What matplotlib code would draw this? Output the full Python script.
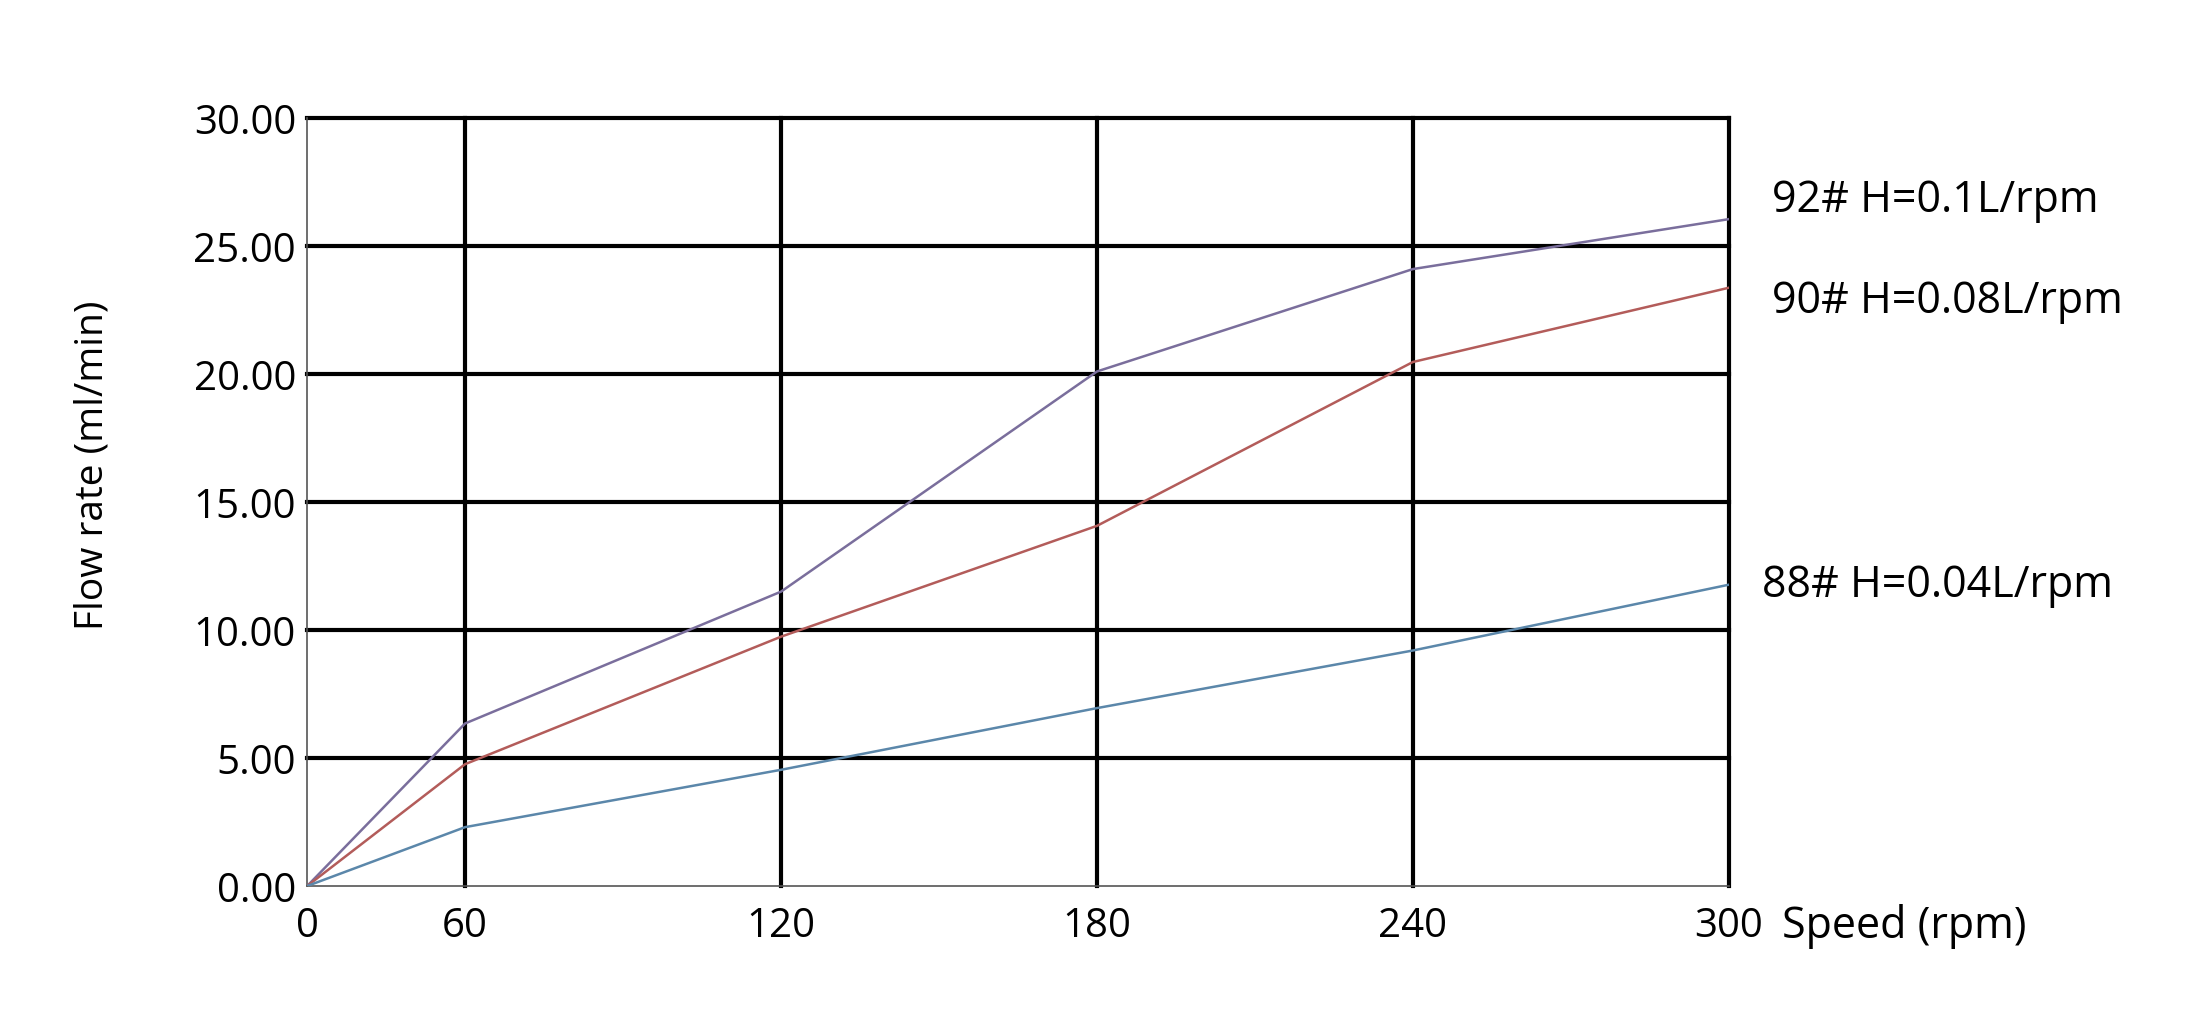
import numpy as np
import matplotlib
matplotlib.use("Agg")
import matplotlib.pyplot as plt

plt.rcParams['font.family'] = ['Open Sans', 'DejaVu Sans']

speed = [0, 60, 120, 180, 240, 300]
flow_92 = [0, 6.35, 11.5, 20.1, 24.1, 26.05]
flow_90 = [0, 4.76, 9.74, 14.07, 20.47, 23.37]
flow_88 = [0, 2.3, 4.54, 6.95, 9.2, 11.77]
labels = ["92# H=0.1L/rpm", "90# H=0.08L/rpm", "88# H=0.04L/rpm"]
colors = ["#7a6e9c", "#b35c5a", "#5b87aa"]
yticks = [0, 5, 10, 15, 20, 25, 30]


# the first interval (0-60) is drawn half as wide as the others
def fwd(x):
    x = np.asarray(x, dtype=float)
    return np.where(x < 60, x / 120.0, x / 60.0 - 0.5)


def inv(p):
    p = np.asarray(p, dtype=float)
    return np.where(p < 0.5, p * 120.0, (p + 0.5) * 60.0)


fig = plt.figure(figsize=(21.94, 10.12), dpi=100)
ax = fig.add_axes([0.14, 0.1235, 0.648, 0.7589])
ax.set_xscale('function', functions=(fwd, inv))

for yv in yticks[1:]:
    ax.axhline(yv, color='black', linewidth=3.0, zorder=1, clip_on=False)
for xv in speed[1:]:
    ax.axvline(xv, color='black', linewidth=3.0, zorder=1, clip_on=False)

for y, c in zip([flow_92, flow_90, flow_88], colors):
    ax.plot(speed, y, color=c, linewidth=1.8, zorder=3)

ax.set_xlim(0, 300)
ax.set_ylim(0, 30)
ax.set_xticks(speed)
ax.set_xticklabels([str(v) for v in speed])
ax.minorticks_off()
ax.set_yticks(yticks)
ax.set_yticklabels([f"{v:.2f}" for v in yticks])
ax.tick_params(length=0, labelsize=29, pad=8)
ax.tick_params(axis='x', pad=14)
for s in ['top', 'right']:
    ax.spines[s].set_visible(False)
for s in ['left', 'bottom']:
    ax.spines[s].set_color('#555555')
    ax.spines[s].set_linewidth(1.2)

# labels at line ends
tr = ax.get_yaxis_transform()
ax.text(1.03, flow_92[-1] + 0.75, labels[0], transform=tr,
        fontsize=31, va='center', ha='left')
ax.text(1.03, flow_90[-1] - 0.5, labels[1], transform=tr,
        fontsize=31, va='center', ha='left')
ax.text(1.023, flow_88[-1], labels[2], transform=tr,
        fontsize=31, va='center', ha='left')

fig.text(0.812, 0.084, "Speed (rpm)", fontsize=31, va='center', ha='left')
fig.text(0.042, 0.54, "Flow rate (ml/min)", fontsize=28, va='center', ha='center',
         rotation=90)

fig.savefig("out.png", dpi=100)
